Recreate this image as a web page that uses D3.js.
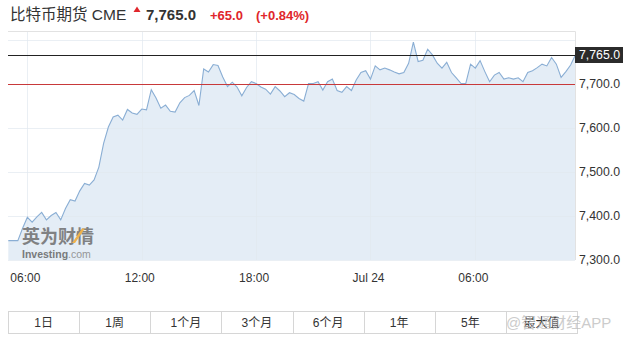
<!DOCTYPE html>
<html>
<head>
<meta charset="utf-8">
<script src="https://cdn.jsdelivr.net/npm/d3@7"></script>
<style>
  body { margin: 0; background: #fff; }
  svg { display: block; font-family: "Liberation Sans", Arial, "Noto Sans CJK SC", sans-serif; }
</style>
</head>
<body>
<div id="chart"></div>
<script>
// 15-minute prices, Jul 23 05:00 onward (CME bitcoin futures)
var prices = [
  7343, 7343, 7343, 7371, 7396, 7385, 7397, 7407, 7390, 7400,
  7407, 7390, 7416, 7436, 7433, 7456, 7473, 7469, 7481, 7510,
  7564, 7601, 7624, 7628, 7617, 7641, 7633, 7630, 7642, 7640,
  7686, 7667, 7644, 7651, 7637, 7635, 7656, 7668, 7673, 7684,
  7650, 7733, 7726, 7743, 7741, 7715, 7693, 7703, 7692, 7672,
  7691, 7704, 7700, 7692, 7687, 7676, 7693, 7683, 7670, 7679,
  7675, 7666, 7660, 7700, 7700, 7704, 7685, 7704, 7710, 7684,
  7680, 7693, 7684, 7708, 7725, 7729, 7710, 7740, 7731, 7735,
  7731, 7726, 7722, 7725, 7746, 7794, 7750, 7753, 7778, 7765,
  7746, 7735, 7748, 7725, 7713, 7700, 7700, 7744, 7735, 7752,
  7727, 7704, 7719, 7725, 7710, 7713, 7710, 7713, 7704, 7725,
  7729, 7736, 7744, 7740, 7759, 7744, 7714, 7727, 7742, 7765
];

var xTickIndex = [4, 28, 52, 76, 98];
var xTickLabels = ["06:00", "12:00", "18:00", "Jul 24", "06:00"];
var yTicks = [7300, 7400, 7500, 7600, 7700];
var yGrid = [7300, 7400, 7500, 7600, 7700, 7800];
var lastPrice = 7765;
var prevClose = 7700;
var ranges = ["1日", "1周", "1个月", "3个月", "6个月", "1年", "5年", "最大值"];

var W = 633, H = 338;
var plot = {left: 8, right: 575, top: 32, bottom: 260};

var svg = d3.select("#chart").append("svg")
    .attr("width", W)
    .attr("height", H);

var x = d3.scaleLinear()
    .domain([0, prices.length - 1])
    .range([plot.left + 0.3, plot.right + 0.4]);

var y = d3.scaleLinear()
    .domain([7300, 7700])
    .range([259.5, 83.5]);

// title line
svg.append("text")
    .attr("x", 10)
    .attr("y", 20)
    .attr("font-size", 15.5)
    .attr("fill", "#333")
    .text("比特币期货 CME");

svg.append("path")
    .attr("d", "M133.5,12 L137,6.5 L140.5,12 Z")
    .attr("fill", "#e0262b");

svg.append("text")
    .attr("x", 146)
    .attr("y", 20)
    .attr("font-size", 15)
    .attr("font-weight", "bold")
    .attr("fill", "#333")
    .text("7,765.0");

svg.append("text")
    .attr("x", 210)
    .attr("y", 20)
    .attr("font-size", 13)
    .attr("font-weight", "bold")
    .attr("fill", "#e0262b")
    .text("+65.0");

svg.append("text")
    .attr("x", 256)
    .attr("y", 20)
    .attr("font-size", 13)
    .attr("font-weight", "bold")
    .attr("fill", "#e0262b")
    .text("(+0.84%)");

// area + line
var area = d3.area()
    .x(function(d, i) { return x(i); })
    .y0(plot.bottom)
    .y1(function(d) { return y(d); });

var line = d3.line()
    .x(function(d, i) { return x(i); })
    .y(function(d) { return y(d); });

svg.append("path")
    .datum(prices)
    .attr("d", area)
    .attr("fill", "#e4edf6");

// grid, faint over the fill
var grid = svg.append("g").attr("class", "grid");
grid.selectAll("line.h")
  .data(yGrid)
  .enter().append("line")
    .attr("x1", plot.left)
    .attr("x2", plot.right)
    .attr("y1", function(d) { return Math.round(y(d)) + 0.5; })
    .attr("y2", function(d) { return Math.round(y(d)) + 0.5; })
    .attr("stroke", "rgba(225,232,240,0.7)");
grid.selectAll("line.v")
  .data(xTickIndex)
  .enter().append("line")
    .attr("x1", function(d) { return Math.round(x(d)) + 0.5; })
    .attr("x2", function(d) { return Math.round(x(d)) + 0.5; })
    .attr("y1", plot.top)
    .attr("y2", plot.bottom)
    .attr("stroke", "rgba(225,232,240,0.7)");

svg.append("path")
    .datum(prices)
    .attr("d", line)
    .attr("fill", "none")
    .attr("stroke", "#8aaed4")
    .attr("stroke-width", 1.1);

// frame
svg.append("line")
    .attr("x1", plot.left).attr("x2", plot.right + 0.5)
    .attr("y1", plot.top - 0.5).attr("y2", plot.top - 0.5)
    .attr("stroke", "#e2e2e2");
svg.append("line")
    .attr("x1", plot.right + 0.5).attr("x2", plot.right + 0.5)
    .attr("y1", plot.top - 0.5).attr("y2", plot.bottom)
    .attr("stroke", "#e2e2e2");

// previous close and last price lines
svg.append("line")
    .attr("x1", plot.left).attr("x2", plot.right)
    .attr("y1", Math.round(y(prevClose)) + 0.5)
    .attr("y2", Math.round(y(prevClose)) + 0.5)
    .attr("stroke", "#c8393a");
svg.append("line")
    .attr("x1", plot.left).attr("x2", plot.right)
    .attr("y1", Math.round(y(lastPrice)) + 0.5)
    .attr("y2", Math.round(y(lastPrice)) + 0.5)
    .attr("stroke", "#222");

// y axis labels
var fmt = d3.format(",.1f");
svg.append("g")
  .selectAll("text")
  .data(yTicks)
  .enter().append("text")
    .attr("x", 579)
    .attr("y", function(d) { return y(d) + 4.5; })
    .attr("font-size", 12.3)
    .attr("fill", "#333")
    .text(function(d) { return fmt(d); });

svg.append("rect")
    .attr("x", 575)
    .attr("y", Math.round(y(lastPrice)) - 8)
    .attr("width", 48)
    .attr("height", 16)
    .attr("fill", "#2b2b2b");
svg.append("text")
    .attr("x", 579)
    .attr("y", y(lastPrice) + 4.5)
    .attr("font-size", 12.3)
    .attr("fill", "#fff")
    .text(fmt(lastPrice));

// x axis labels
svg.append("g")
  .selectAll("text")
  .data(xTickIndex)
  .enter().append("text")
    .attr("x", function(d) { return x(d) - 2; })
    .attr("y", 282)
    .attr("text-anchor", "middle")
    .attr("font-size", 12)
    .attr("fill", "#333")
    .text(function(d, i) { return xTickLabels[i]; });

// investing watermark
var logo = svg.append("g").attr("opacity", 0.85);
logo.append("text")
    .attr("x", 22)
    .attr("y", 243)
    .attr("font-size", 18)
    .attr("font-weight", "bold")
    .attr("font-family", "Noto Sans CJK SC")
    .attr("fill", "#6f6f6f")
    .text("英为财情");
logo.append("path")
    .attr("d", "M72,243 L82,228.5 L85,228.5 L75,243 Z")
    .attr("fill", "#f0a830");
var inv = logo.append("text")
    .attr("x", 22)
    .attr("y", 257.5)
    .attr("font-size", 10.5)
    .attr("fill", "#666");
inv.append("tspan").attr("font-weight", "bold").text("Investing");
inv.append("tspan").attr("fill", "#888").text(".com");

// range buttons
var bw = (577 - 8) / ranges.length;
var btn = svg.append("g");
btn.append("rect")
    .attr("x", 8.5).attr("y", 311.5)
    .attr("width", 577 - 8).attr("height", 22)
    .attr("fill", "#fff")
    .attr("stroke", "#d6d6d6");
btn.selectAll("line")
  .data(ranges.slice(1))
  .enter().append("line")
    .attr("x1", function(d, i) { return Math.round(8 + bw * (i + 1)) + 0.5; })
    .attr("x2", function(d, i) { return Math.round(8 + bw * (i + 1)) + 0.5; })
    .attr("y1", 311.5).attr("y2", 333.5)
    .attr("stroke", "#d6d6d6");
btn.selectAll("text")
  .data(ranges)
  .enter().append("text")
    .attr("x", function(d, i) { return 8 + bw * (i + 0.5); })
    .attr("y", 327)
    .attr("text-anchor", "middle")
    .attr("font-size", 12)
    .attr("fill", "#333")
    .text(function(d) { return d; });

// app watermark (sits over the last button, as in the source)
svg.append("text")
    .attr("x", 506)
    .attr("y", 328)
    .attr("font-size", 15)
    .attr("fill", "#bbb")
    .attr("opacity", 0.75)
    .text("@智通财经APP");
</script>
</body>
</html>
